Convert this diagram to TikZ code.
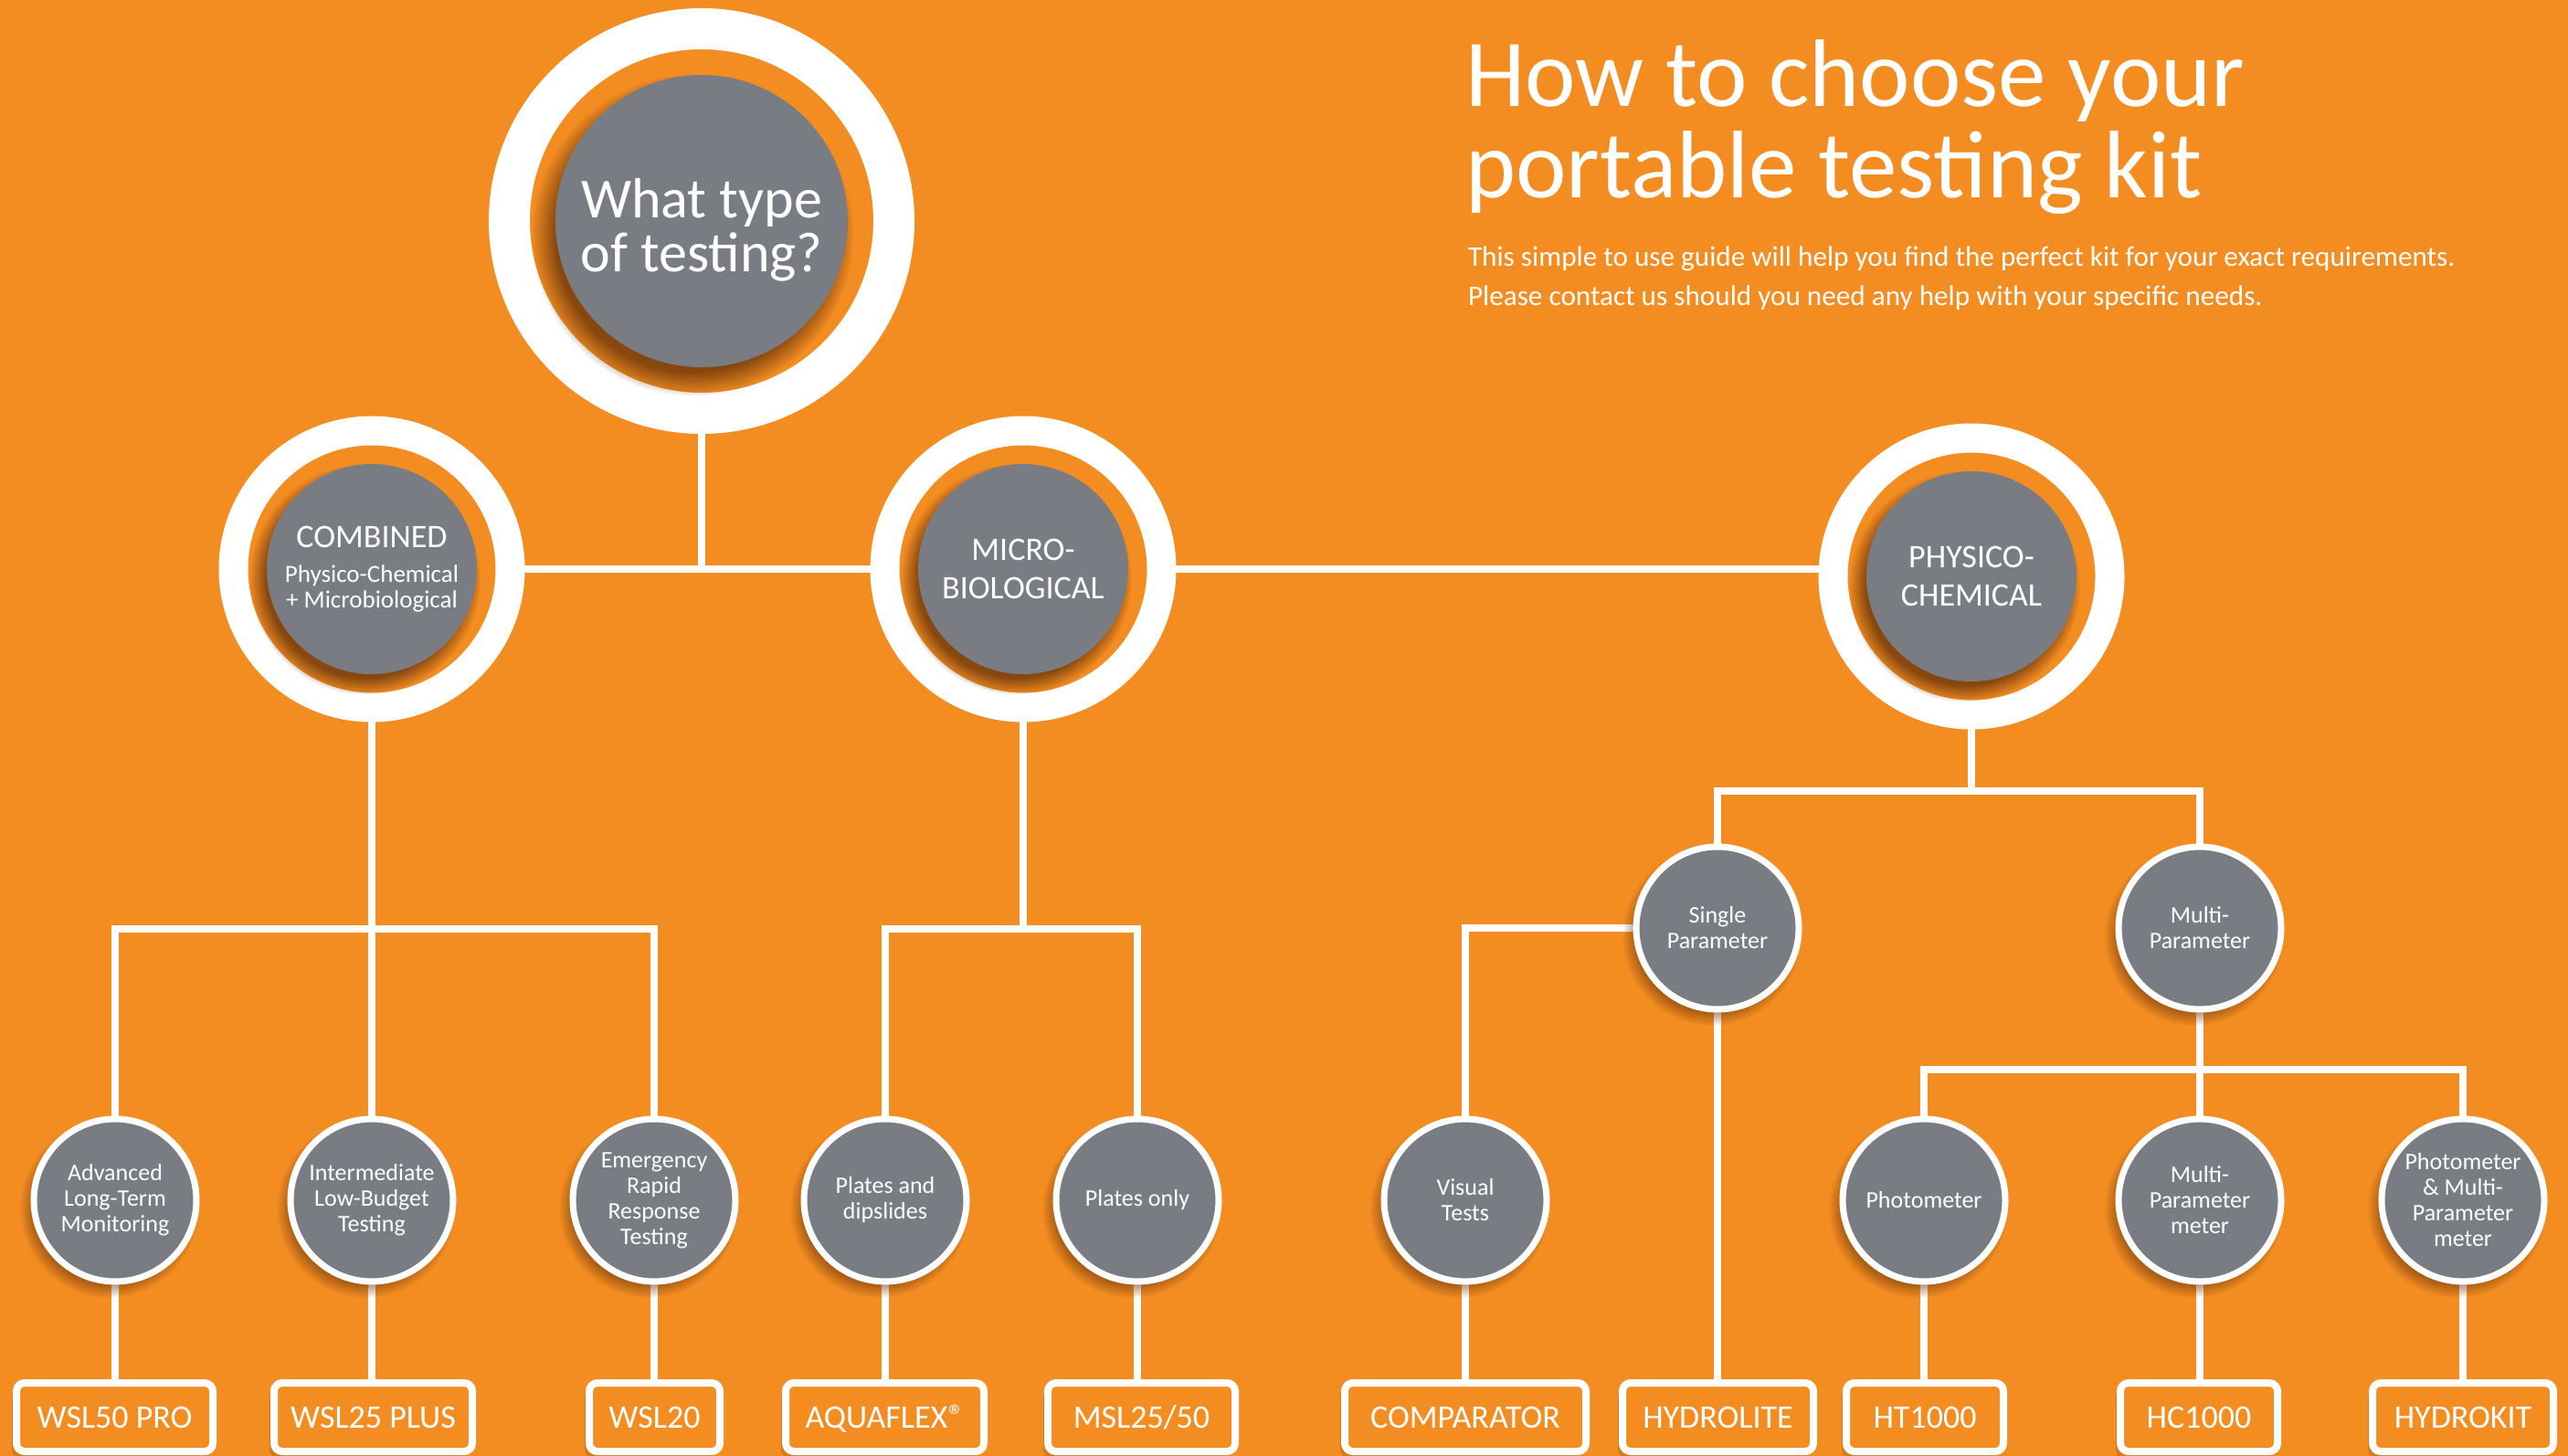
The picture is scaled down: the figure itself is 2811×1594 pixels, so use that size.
\documentclass[tikz,border=0pt]{standalone}
\usepackage{fontspec}
\setmainfont{Carlito}
\usetikzlibrary{shadows,fadings}
\definecolor{bgorange}{RGB}{243,140,33}
\definecolor{nodegray}{RGB}{121,125,131}
\definecolor{shadowbrown}{RGB}{100,50,10}
\pgfdeclarelayer{bglayer}
\pgfdeclarelayer{linelayer}
\pgfsetlayers{bglayer,linelayer,main}
\tikzset{
  conn/.style={draw=white, line width=8pt},
  ring/.style={circle, draw=white, fill=none, inner sep=0pt, outer sep=0pt},
  bigring/.style={ring, line width=32pt, minimum size=303pt},
  topring/.style={ring, line width=45pt, minimum size=421pt},
  core/.style={circle, fill=nodegray, inner sep=0pt, outer sep=0pt, text=white, align=center},
  bigcore/.style={core, minimum size=230pt, font=\fontsize{36}{42}\selectfont,
     circular drop shadow={shadow xshift=-7pt, shadow yshift=-10pt, shadow scale=1.1, fill=shadowbrown, opacity=0.75}},
  topcore/.style={core, minimum size=320pt,
     circular drop shadow={shadow xshift=-9pt, shadow yshift=-14pt, shadow scale=1.1, fill=shadowbrown, opacity=0.75}},
  smallnode/.style={circle, fill=nodegray, draw=white, line width=7pt, minimum size=178pt,
     inner sep=0pt, outer sep=0pt, text=white, align=center, font=\fontsize{26}{28}\selectfont,
     circular drop shadow={shadow xshift=-6pt, shadow yshift=-8pt, shadow scale=1.1, fill=shadowbrown, opacity=0.5}},
  kit/.style={draw=white, line width=8pt, rounded corners=9pt, fill=bgorange, minimum height=75pt,
     inner sep=0pt, outer sep=0pt, text=white, font=\fontsize{36}{40}\selectfont,
     text height=23pt, text depth=0pt,
     drop shadow={shadow xshift=-5pt, shadow yshift=-7pt, fill=shadowbrown, opacity=0.2}},
  heading/.style={anchor=base west, inner sep=0pt, outer sep=0pt, text=white},
}
\begin{document}
\begin{tikzpicture}[x=1pt,y=-1pt]
\useasboundingbox (0,0) rectangle (2811,1594);
\begin{pgfonlayer}{bglayer}
\fill[bgorange] (0,0) rectangle (2811,1594);
\end{pgfonlayer}

% title
\node[heading, font=\fontsize{105}{100}\selectfont] (title1) at (1604,117) {How to choose your};
\node[heading, font=\fontsize{105}{100}\selectfont] (title2) at (1604,217) {portable testing kit};
\node[heading, font=\fontsize{31.2}{43}\selectfont] (sub1) at (1607,292) {This simple to use guide will help you find the perfect kit for your exact requirements.};
\node[heading, font=\fontsize{31.2}{43}\selectfont] (sub2) at (1607,335) {Please contact us should you need any help with your specific needs.};

% top node
\node[topring] (top) at (768,242) {};
\node[topcore] (topg) at (768,242) {};
\node[text=white, align=center, inner sep=0pt, font=\fontsize{62}{59}\selectfont] (toptext) at (768,252) {What type\\of testing?};

% level 1
\node[bigring] (comb) at (407,623) {};
\node[bigcore, font=\fontsize{27}{28}\selectfont] (combg) at (407,623) {{\fontsize{36}{38}\selectfont COMBINED}\\[10pt]Physico-Chemical\\+ Microbiological};
\node[bigring] (micro) at (1120,623) {};
\node[bigcore] (microg) at (1120,623) {MICRO-\\BIOLOGICAL};
\node[bigring] (phys) at (2158,631) {};
\node[bigcore] (physg) at (2158,631) {PHYSICO-\\CHEMICAL};

% level 2 (physico)
\node[smallnode] (single) at (1880,1016) {Single\\Parameter};
\node[smallnode] (multi) at (2408,1016) {Multi-\\Parameter};

% level 3 circles
\node[smallnode] (adv) at (126,1314) {Advanced\\Long-Term\\Monitoring};
\node[smallnode] (inter) at (407,1314) {Intermediate\\Low-Budget\\Testing};
\node[smallnode] (emer) at (716,1314) {Emergency\\Rapid\\Response\\Testing};
\node[smallnode] (plates) at (969,1314) {Plates and\\dipslides};
\node[smallnode] (only) at (1245,1314) {Plates only};
\node[smallnode] (visual) at (1604,1314) {Visual\\Tests};
\node[smallnode] (photo) at (2106,1314) {Photometer};
\node[smallnode] (mpm) at (2408,1314) {Multi-\\Parameter\\meter};
\node[smallnode] (pmm) at (2696,1314) {Photometer\\\& Multi-\\Parameter\\meter};

% kit boxes
\node[kit, minimum width=215pt] (wsl50) at (125.5,1551.5) {WSL50 PRO};
\node[kit, minimum width=217pt] (wsl25) at (408.5,1551.5) {WSL25 PLUS};
\node[kit, minimum width=143pt] (wsl20) at (716.5,1551.5) {WSL20};
\node[kit, minimum width=217pt] (aqua) at (968.5,1551.5) {AQUAFLEX\hspace{1pt}\raisebox{2pt}{\fontsize{34}{34}\selectfont ®}};
\node[kit, minimum width=205pt] (msl) at (1249.5,1551.5) {MSL25/50};
\node[kit, minimum width=264pt] (comp) at (1604,1551.5) {COMPARATOR};
\node[kit, minimum width=209pt] (hydrolite) at (1880.5,1551.5) {HYDROLITE};
\node[kit, minimum width=172pt] (ht) at (2107,1551.5) {HT1000};
\node[kit, minimum width=172pt] (hc) at (2407,1551.5) {HC1000};
\node[kit, minimum width=198pt] (hkit) at (2696,1551.5) {HYDROKIT};

% connectors
\coordinate (cJ) at (407,1017);
\coordinate (mJ) at (1120,1017);
\coordinate (pJ) at (2158,866);
\coordinate (qJ) at (2408,1171);
\begin{pgfonlayer}{linelayer}
\draw[conn] (top.south) -- (top.south |- comb.east);
\draw[conn] (comb.east) -- (micro.west);
\draw[conn] (micro.east) -- (micro.east -| phys.west);
\draw[conn] (comb.south) -- (cJ);
\draw[conn] (adv.north) |- (cJ) -| (emer.north);
\draw[conn] (cJ) -- (inter.north);
\draw[conn] (micro.south) -- (mJ);
\draw[conn] (plates.north) |- (mJ) -| (only.north);
\draw[conn] (phys.south) -- (pJ);
\draw[conn] (single.north) |- (pJ) -| (multi.north);
\draw[conn] (single.west) -| (visual.north);
\draw[conn] (single.south) -- (single.south |- hydrolite.north);
\draw[conn] (multi.south) -- (qJ);
\draw[conn] (photo.north) |- (qJ) -| (pmm.north);
\draw[conn] (qJ) -- (mpm.north);
\foreach \a/\b in {adv/wsl50, inter/wsl25, emer/wsl20, plates/aqua, only/msl, visual/comp, photo/ht, mpm/hc, pmm/hkit}
  \draw[conn] (\a.south) -- (\a.south |- \b.north);
\end{pgfonlayer}
\end{tikzpicture}
\end{document}
